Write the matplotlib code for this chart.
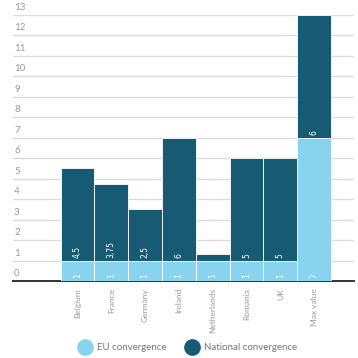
import matplotlib
matplotlib.use('Agg')
import matplotlib.pyplot as plt
from matplotlib.lines import Line2D
from matplotlib.transforms import blended_transform_factory, offset_copy

# data
countries = ["Belgium", "France", "Germany", "Ireland", "Netherlands", "Romania", "UK", "Max value"]
eu_conv = [1, 1, 1, 1, 1, 1, 1, 7]
national_conv = [4.5, 3.75, 2.5, 6, 0.3, 5, 5, 6]
national_labels = ["4,5", "3,75", "2,5", "6", "", "5", "5", "6"]
eu_labels = ["1", "1", "1", "1", "1", "1", "1", "7"]
y_ticks = list(range(0, 14))

LIGHT = "#88d4ee"
DARK = "#175a73"
GREY = "#9a9a9a"

plt.rcParams['font.family'] = ['Lato', 'DejaVu Sans']

fig = plt.figure(figsize=(3.58, 3.58), dpi=100)
ax = fig.add_axes([13 / 358, 77 / 358, 341 / 358, 266 / 358])

x = list(range(len(countries)))
ax.bar(x, eu_conv, width=1.0, color=LIGHT, edgecolor="white", linewidth=0.6, zorder=3)
ax.bar(x, national_conv, width=1.0, bottom=eu_conv, color=DARK, edgecolor="white",
       linewidth=0.6, zorder=3)

# value labels at the base of each segment (DejaVu so the comma shows)
lbl_trans = offset_copy(ax.transData, fig, y=3, units='dots')
for i in x:
    ax.text(i, 0, eu_labels[i], transform=lbl_trans, rotation=90, ha="center",
            va="bottom", color="white", fontsize=5.5, family="DejaVu Sans", zorder=4)
    if national_labels[i]:
        ax.text(i, eu_conv[i], national_labels[i], transform=lbl_trans, rotation=90,
                ha="center", va="bottom", color="white", fontsize=5.5,
                family="DejaVu Sans", zorder=4)

ax.set_xlim(-1.91, 8.18)
ax.set_ylim(0, 13)

# gridlines and left-aligned y labels sitting above them
for v in y_ticks[1:]:
    ax.axhline(v, color="#dcdcdc", linewidth=1.0, zorder=1)
trans = blended_transform_factory(ax.transAxes, ax.transData)
for v in y_ticks:
    ax.text(0.003, v, str(v), transform=offset_copy(trans, fig, y=3, units='dots'),
            ha="left", va="bottom", color=GREY, fontsize=7)

for s in ["top", "right", "left"]:
    ax.spines[s].set_visible(False)
ax.spines["bottom"].set_color("#333333")
ax.spines["bottom"].set_linewidth(1.4)
ax.set_yticks([])
ax.set_xticks(x)
ax.set_xticklabels(countries, rotation=90, color=GREY, fontsize=6)
ax.tick_params(axis="x", length=0, pad=5)

handles = [
    Line2D([], [], marker="o", linestyle="", markersize=11, color=LIGHT, label="EU convergence"),
    Line2D([], [], marker="o", linestyle="", markersize=11, color=DARK, label="National convergence"),
]
fig.legend(handles=handles, loc="center", bbox_to_anchor=(0.52, 0.028),
           ncol=2, frameon=False, fontsize=7, labelcolor="#777777",
           handletextpad=0.2, columnspacing=1.6)

fig.savefig("out.png", dpi=100)
